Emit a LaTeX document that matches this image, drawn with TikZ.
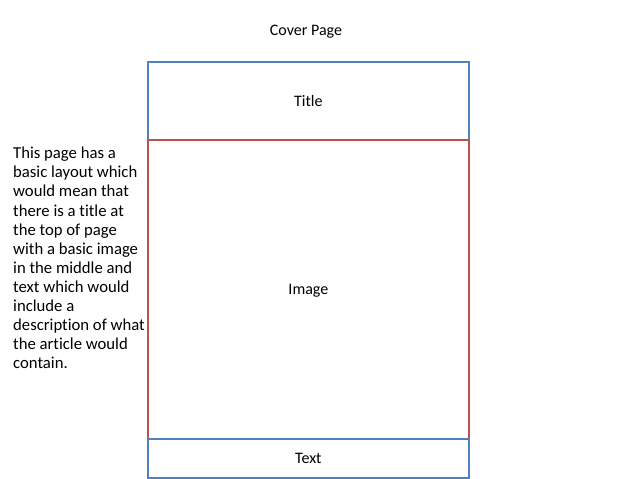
\documentclass[tikz,border=0pt]{standalone}
\usepackage{fontspec}
\setmainfont[Ligatures=NoCommon]{Carlito}
\definecolor{boxblue}{RGB}{79,129,189}
\definecolor{boxred}{RGB}{192,80,77}
\begin{document}
\begin{tikzpicture}[x=1pt,y=-1pt,
  lbl/.style={font=\fontsize{16}{19}\selectfont, text=black},
  part/.style={draw=#1, line width=1.8pt, inner sep=0pt, minimum width=321pt, anchor=north west, lbl}]
\useasboundingbox[fill=white] (0,0) rectangle (638,479);
\node[lbl] (cover) at (306,32) {Cover Page};
\node[part=boxblue, minimum height=78pt] (title) at (147,61) {Title};
\node[part=boxred, minimum height=299pt] (image) at (147,139) {};
\node[lbl] (imagelbl) at ([yshift=-1.5pt]image.center) {Image};
\node[part=boxblue, minimum height=39pt] (text) at (147,438) {Text};
\node[font=\fontsize{16.7}{19.1}\selectfont, align=left, inner sep=0pt, anchor=north west] (desc) at (13,147)
  {This page has a\\basic layout which\\would mean that\\there is a title at\\the top of page\\with a basic image\\in the middle and\\text which would\\include a\\description of what\\the article would\\contain.};
\end{tikzpicture}
\end{document}
